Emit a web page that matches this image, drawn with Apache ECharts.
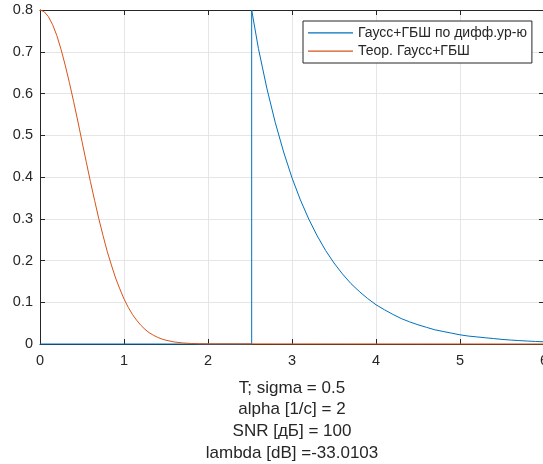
<!DOCTYPE html>
<html><head><meta charset="utf-8">
<script src="https://cdn.jsdelivr.net/npm/echarts@6/dist/echarts.min.js"></script>
<style>html,body{margin:0;padding:0;background:#fff}#c{width:543px;height:464px}</style>
</head><body><div id="c"></div>
<script>
// Series 1: "Гаусс+ГБШ по дифф.ур-ю" (t, value)
const blueT = [0, 2.52, 2.52, 2.6, 2.7, 2.8, 2.9, 3.0, 3.1, 3.2, 3.3, 3.4, 3.5, 3.6, 3.7, 3.8, 3.9, 4.0, 4.1, 4.2, 4.3, 4.4, 4.5, 4.6, 4.7, 4.8, 4.9, 5.0, 5.1, 5.2, 5.3, 5.4, 5.5, 5.6, 5.7, 5.8, 5.9, 6.0];
const blueV = [0, 0, 0.800, 0.708, 0.613, 0.531, 0.460, 0.398, 0.345, 0.299, 0.259, 0.224, 0.194, 0.168, 0.145, 0.126, 0.109, 0.094, 0.082, 0.071, 0.061, 0.053, 0.046, 0.040, 0.034, 0.030, 0.026, 0.022, 0.019, 0.017, 0.015, 0.013, 0.011, 0.0095, 0.0082, 0.0071, 0.0061, 0.0053];
// Series 2: "Теор. Гаусс+ГБШ"
const redT = [0, 0.05, 0.1, 0.15, 0.2, 0.25, 0.3, 0.35, 0.4, 0.45, 0.5, 0.55, 0.6, 0.65, 0.7, 0.75, 0.8, 0.85, 0.9, 0.95, 1.0, 1.05, 1.1, 1.15, 1.2, 1.25, 1.3, 1.35, 1.4, 1.45, 1.5, 1.6, 1.7, 1.8, 1.9, 2.0, 6.0];
const redV = [0.800, 0.796, 0.784, 0.765, 0.739, 0.706, 0.668, 0.626, 0.581, 0.534, 0.485, 0.437, 0.389, 0.344, 0.300, 0.260, 0.222, 0.189, 0.158, 0.132, 0.108, 0.088, 0.071, 0.057, 0.045, 0.035, 0.027, 0.021, 0.016, 0.012, 0.009, 0.0048, 0.0025, 0.0012, 0.0006, 0.0003, 0];
const seriesNames = ['Гаусс+ГБШ по дифф.ур-ю', 'Теор. Гаусс+ГБШ'];
const xLabelText = ['T; sigma = 0.5', 'alpha [1/c] = 2', 'SNR [дБ] = 100', 'lambda [dB] =-33.0103'];

const FONT = '"Liberation Sans", Arial, sans-serif';
const AX = '#262626';
const GRID = '#e5e5e5';
const chart = echarts.init(document.getElementById('c'), null, {renderer: 'canvas'});
const zip = (a, b) => a.map((v, i) => [v, b[i]]);
const axBase = {
  type: 'value',
  axisLine: {show: true, onZero: false, lineStyle: {color: AX, width: 1}},
  axisTick: {show: true, inside: true, length: 5, lineStyle: {color: AX}},
};
chart.setOption({
  animation: false,
  backgroundColor: '#fff',
  textStyle: {fontFamily: FONT},
  grid: {left: 40, top: 10, right: -1, bottom: 120, containLabel: false, outerBoundsMode: 'none'},
  legend: {
    orient: 'vertical', left: 303, top: 21,
    data: seriesNames,
    icon: 'rect', itemWidth: 45, itemHeight: 1.2, itemGap: 4.4,
    padding: [4.8, 5, 4.8, 5],
    borderColor: AX, borderWidth: 1, backgroundColor: '#fff',
    textStyle: {fontFamily: FONT, fontSize: 14, color: AX, padding: [0, 0, 0, 0]},
    z: 10
  },
  xAxis: [
    Object.assign({}, axBase, {
      position: 'bottom', min: 0, max: 6, interval: 1,
      splitLine: {show: true, lineStyle: {color: GRID, width: 1}},
      axisLabel: {fontFamily: FONT, fontSize: 14.5, color: AX, margin: 9},
      name: xLabelText.join('\n'), nameLocation: 'middle', nameGap: 33,
      nameTextStyle: {fontFamily: FONT, fontSize: 17, color: AX, lineHeight: 21.7, verticalAlign: 'top'}
    }),
    Object.assign({}, axBase, {
      position: 'top', min: 0, max: 6, interval: 1,
      splitLine: {show: false}, axisLabel: {show: false}
    })
  ],
  yAxis: [
    Object.assign({}, axBase, {
      position: 'left', min: 0, max: 0.8, interval: 0.1,
      splitLine: {show: true, lineStyle: {color: GRID, width: 1}},
      axisLabel: {fontFamily: FONT, fontSize: 14.5, color: AX, margin: 7,
        formatter: v => (Math.round(v * 10) / 10).toString()}
    }),
    Object.assign({}, axBase, {
      position: 'right', min: 0, max: 0.8, interval: 0.1,
      splitLine: {show: false}, axisLabel: {show: false}
    })
  ],
  series: [
    {name: seriesNames[0], type: 'line', data: zip(blueT, blueV), showSymbol: false, symbol: 'none',
     lineStyle: {color: '#0072BD', width: 1}, itemStyle: {color: '#0072BD'}, xAxisIndex: 0, yAxisIndex: 0, clip: false},
    {name: seriesNames[1], type: 'line', data: zip(redT, redV), showSymbol: false, symbol: 'none',
     lineStyle: {color: '#D95319', width: 1}, itemStyle: {color: '#D95319'}, xAxisIndex: 0, yAxisIndex: 0, clip: false}
  ]
});
</script></body></html>
